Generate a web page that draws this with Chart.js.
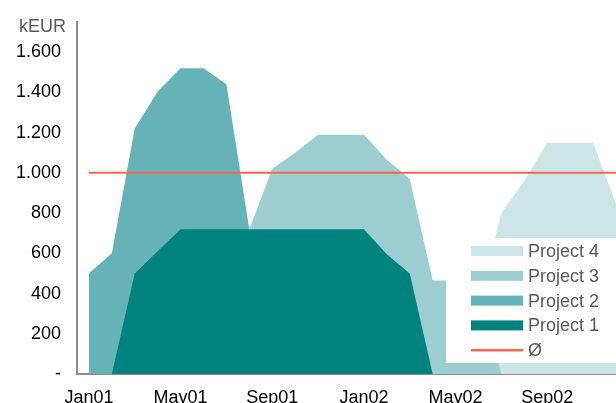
<!DOCTYPE html>
<html>
<head>
<meta charset="utf-8">
<script src="https://cdn.jsdelivr.net/npm/chart.js@4/dist/chart.umd.min.js"></script>
<style>
  html, body { margin: 0; padding: 0; background: #fff; overflow: hidden; }
  #wrap { width: 616px; height: 403px; position: relative; }
</style>
</head>
<body>
<div id="wrap"><canvas id="myChart"></canvas></div>
<script>
// monthly figures, kEUR
var months = ['Jan01','Feb01','Mar01','Apr01','May01','Jun01','Jul01','Aug01','Sep01','Oct01','Nov01','Dec01',
              'Jan02','Feb02','Mar02','Apr02','May02','Jun02','Jul02','Aug02','Sep02','Oct02','Nov02','Dec02'];

var project1 = [0, 0, 500, 610, 720, 720, 720, 720, 720, 720, 720, 720, 720, 595, 500, 0, 0, 0, 0, 0, 0, 0, 0, 0];
var project2 = [500, 600, 1220, 1405, 1520, 1520, 1440, 720, 0, 0, 0, 0, 0, 0, 0, 0, 0, 0, 0, 0, 0, 0, 0, 0];
var project3 = [0, 0, 0, 0, 0, 0, 0, 720, 1020, 1100, 1190, 1190, 1190, 1065, 970, 465, 465, 440, 0, 0, 0, 0, 0, 0];
var project4 = [0, 0, 0, 0, 0, 0, 0, 0, 0, 0, 0, 0, 0, 0, 0, 0, 0, 340, 800, 960, 1150, 1150, 1150, 845];
var average  = [1000, 1000, 1000, 1000, 1000, 1000, 1000, 1000, 1000, 1000, 1000, 1000,
                1000, 1000, 1000, 1000, 1000, 1000, 1000, 1000, 1000, 1000, 1000, 1000];

var yTicks = [0, 200, 400, 600, 800, 1000, 1200, 1400, 1600];
var xTicks = [0, 4, 8, 12, 16, 20];
var unitLabel = 'kEUR';

var colP1 = '#00827f';
var colP2 = '#66b3b7';
var colP3 = '#9ccdd0';
var colP4 = '#cce5e6';
var colAvg = '#f2674c';
var fontFam = "'Liberation Sans', Arial, sans-serif";

function pts(arr) {
  return arr.map(function (v, i) { return { x: i, y: v }; });
}

function area(label, arr, color) {
  return {
    label: label,
    data: pts(arr),
    backgroundColor: color,
    borderColor: color,
    borderWidth: 0,
    pointRadius: 0,
    tension: 0,
    fill: 'origin'
  };
}

// first dataset is drawn on top, so the average line goes first
var datasets = [
  { label: 'Ø', data: pts(average), borderColor: colAvg, backgroundColor: colAvg,
    borderWidth: 2, pointRadius: 0, fill: false },
  area('Project 1', project1, colP1),
  area('Project 2', project2, colP2),
  area('Project 3', project3, colP3),
  area('Project 4', project4, colP4)
];

var legendRows = [
  { text: 'Project 4', color: colP4, line: false },
  { text: 'Project 3', color: colP3, line: false },
  { text: 'Project 2', color: colP2, line: false },
  { text: 'Project 1', color: colP1, line: false },
  { text: 'Ø', color: colAvg, line: true }
];

// legend box sitting inside the plot, bottom right, plus the unit above the y axis
var boxLegend = {
  id: 'boxLegend',
  afterDatasetsDraw: function (chart) {
    var ctx = chart.ctx, a = chart.chartArea;
    var left = a.right - 170, top = a.bottom - 136, bottom = a.bottom - 11;
    ctx.save();
    ctx.fillStyle = '#fff';
    ctx.fillRect(left, top, a.right - left, bottom - top);
    ctx.font = '18px ' + fontFam;
    ctx.textBaseline = 'middle';
    ctx.textAlign = 'left';
    legendRows.forEach(function (r, k) {
      var cy = top + 13 + k * 24.8;
      ctx.fillStyle = r.color;
      if (r.line) ctx.fillRect(left + 25, cy - 1.25, 52, 2.5);
      else ctx.fillRect(left + 25, cy - 5, 52, 10);
      ctx.fillStyle = '#595959';
      ctx.fillText(r.text, left + 82, cy + 1);
    });
    ctx.textAlign = 'right';
    ctx.fillText(unitLabel, a.left - 11, a.top + 5);
    ctx.restore();
  }
};

var ctx = document.getElementById('myChart').getContext('2d');
new Chart(ctx, {
  type: 'line',
  data: { datasets: datasets },
  plugins: [boxLegend],
  options: {
    responsive: true,
    maintainAspectRatio: false,
    animation: false,
    layout: { padding: { top: 22, right: 0, left: 0, bottom: 0 } },
    plugins: {
      legend: { display: false },
      tooltip: { enabled: false }
    },
    scales: {
      x: {
        type: 'linear',
        min: -0.52,
        max: 23,
        z: 1,
        afterBuildTicks: function (scale) {
          scale.ticks = xTicks.map(function (v) { return { value: v }; });
        },
        afterFit: function (scale) {
          scale.height = 29;
          scale.paddingLeft = 0;
          scale.paddingRight = 0;
        },
        grid: { display: false, drawTicks: false },
        border: { display: true, color: '#8c8c8c', width: 2 },
        ticks: {
          autoSkip: false,
          maxRotation: 0,
          padding: 13,
          color: '#000',
          font: { size: 18, family: fontFam },
          callback: function (value) { return months[value]; }
        }
      },
      y: {
        min: 0,
        max: 1750,
        z: 1,
        afterBuildTicks: function (scale) {
          scale.ticks = yTicks.map(function (v) { return { value: v }; });
        },
        afterFit: function (scale) {
          scale.width = 77;
          scale.paddingTop = 0;
          scale.paddingBottom = 0;
        },
        grid: { display: false, drawTicks: false },
        border: { display: true, color: '#8c8c8c', width: 2 },
        ticks: {
          padding: 16,
          color: '#000',
          font: { size: 18, family: fontFam },
          callback: function (value) {
            if (value === 0) return '-';
            return value.toLocaleString('de-DE');
          }
        }
      }
    }
  }
});
</script>
</body>
</html>
